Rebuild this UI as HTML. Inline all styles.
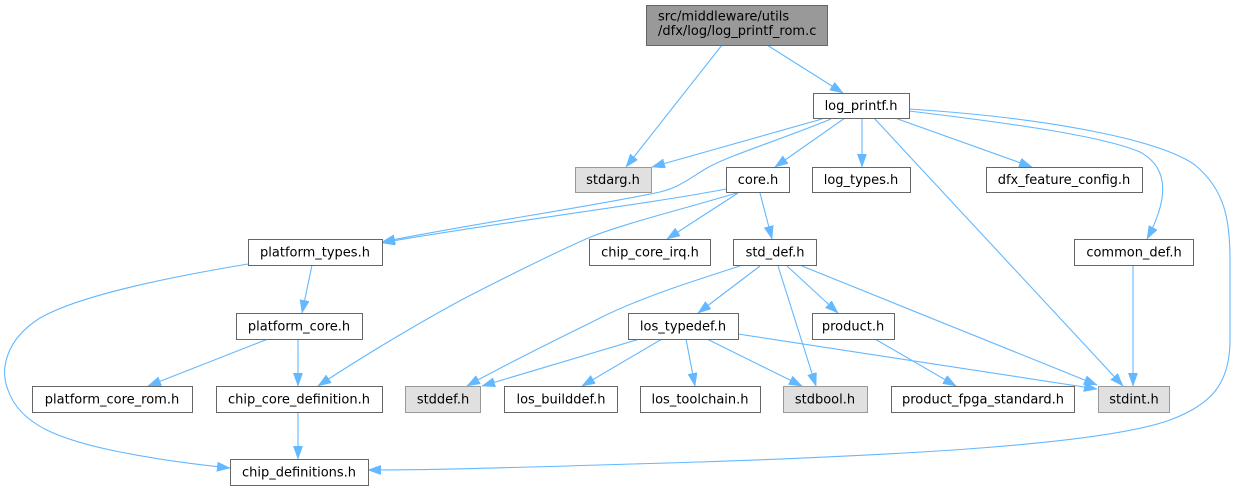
<!DOCTYPE html>
<html><head><meta charset="utf-8"><style>
html,body{margin:0;padding:0;background:#fff;}
svg{display:block;}
text{font-family:"DejaVu Sans","Liberation Sans",sans-serif;font-size:13px;fill:#000;}
.n{fill:#fff;stroke:#666;stroke-width:1;}
.g{fill:#e0e0e0;stroke:#999;stroke-width:1;}
.r{fill:#999;stroke:#666;stroke-width:1;}
.e{fill:none;stroke:#63b8ff;stroke-width:1.1;marker-end:url(#ah);}
</style></head><body>
<svg width="1236" height="491" viewBox="0 0 1236 491" xmlns="http://www.w3.org/2000/svg">
<defs><marker id="ah" markerUnits="userSpaceOnUse" markerWidth="14" markerHeight="10" refX="13" refY="4.7" orient="auto"><path d="M0,0 L13,4.7 L0,9.4 z" fill="#63b8ff" stroke="#63b8ff" stroke-width="0.5"/></marker></defs>

<!-- edges -->
<path class="e" d="M722,45 L626,167"/>
<path class="e" d="M767,45 L843,93"/>
<path class="e" d="M822,119 L652,167"/>
<path class="e" d="M831,119 C780,140 730,155 707,168 C690,178 680,187 660,192 C600,205 460,226 382,242"/>
<path class="e" d="M726,189 C650,204 460,228 382,243"/>
<path class="e" d="M845,118 L775,167"/>
<path class="e" d="M862,118 L862,167"/>
<path class="e" d="M895,118 L1032,167"/>
<path class="e" d="M874,118 L1123,386"/>
<path class="e" d="M909,111 C1000,122 1100,135 1140,152 C1170,168 1168,200 1147,239"/>
<path class="e" d="M909,109 C1050,118 1160,140 1195,165 C1225,190 1230,220 1230,260 L1230,340 C1230,385 1210,405 1170,420 C1100,445 900,455 700,462 C560,466 450,470 368,470"/>
<path class="e" d="M738,193 L667,239"/>
<path class="e" d="M760,193 L772,239"/>
<path class="e" d="M740,192 C680,210 630,222 593,236 C560,250 500,280 467,297 C420,322 360,358 318,386"/>
<path class="e" d="M312,265 L302,313"/>
<path class="e" d="M248,264 C170,277 80,295 40,318 C5,340 0,370 8,390 C20,425 60,440 120,452 C160,460 200,465 230,468"/>
<path class="e" d="M268,339 L148,386"/>
<path class="e" d="M298,339 L298,386"/>
<path class="e" d="M298,412 L298,459"/>
<path class="e" d="M740,266 C690,282 640,298 600,318 C560,338 510,362 467,386"/>
<path class="e" d="M760,266 L698,313"/>
<path class="e" d="M778,266 L816,386"/>
<path class="e" d="M787,266 L838,313"/>
<path class="e" d="M802,266 L1097,385"/>
<path class="e" d="M643,338 L482,386"/>
<path class="e" d="M662,339 L582,386"/>
<path class="e" d="M686,339 L695,386"/>
<path class="e" d="M707,339 L802,386"/>
<path class="e" d="M738,334 L1097,389"/>
<path class="e" d="M875,339 L956,386"/>
<path class="e" d="M1133,265 L1133,386"/>

<!-- nodes -->
<rect class="r" x="646.5" y="5.5" width="181" height="40"/>
<text x="658" y="20.5">src/middleware/utils</text>
<text x="658" y="35">/dfx/log/log_printf_rom.c</text>

<rect class="n" x="813.5" y="93.5" width="96" height="25"/>
<text x="861" y="110" text-anchor="middle">log_printf.h</text>

<rect class="g" x="575.5" y="167.5" width="76" height="25"/>
<text x="613" y="184" text-anchor="middle">stdarg.h</text>

<rect class="n" x="726.5" y="167.5" width="63" height="25"/>
<text x="758" y="184" text-anchor="middle">core.h</text>

<rect class="n" x="812.5" y="167.5" width="98" height="25"/>
<text x="861" y="184" text-anchor="middle">log_types.h</text>

<rect class="n" x="986.5" y="167.5" width="156" height="25"/>
<text x="1064" y="184" text-anchor="middle">dfx_feature_config.h</text>

<rect class="n" x="248.5" y="239.5" width="134" height="26"/>
<text x="315" y="256.5" text-anchor="middle">platform_types.h</text>

<rect class="n" x="589.5" y="239.5" width="121" height="26"/>
<text x="650" y="256.5" text-anchor="middle">chip_core_irq.h</text>

<rect class="n" x="733.5" y="239.5" width="83" height="26"/>
<text x="775" y="256.5" text-anchor="middle">std_def.h</text>

<rect class="n" x="1074.5" y="239.5" width="119" height="26"/>
<text x="1134" y="256.5" text-anchor="middle">common_def.h</text>

<rect class="n" x="236.5" y="313.5" width="126" height="26"/>
<text x="299" y="330.5" text-anchor="middle">platform_core.h</text>

<rect class="n" x="628.5" y="313.5" width="110" height="26"/>
<text x="683" y="330.5" text-anchor="middle">los_typedef.h</text>

<rect class="n" x="812.5" y="313.5" width="82" height="26"/>
<text x="853" y="330.5" text-anchor="middle">product.h</text>

<rect class="n" x="32.5" y="386.5" width="160" height="26"/>
<text x="112" y="403.5" text-anchor="middle">platform_core_rom.h</text>

<rect class="n" x="216.5" y="386.5" width="166" height="26"/>
<text x="299" y="403.5" text-anchor="middle">chip_core_definition.h</text>

<rect class="g" x="405.5" y="386.5" width="75" height="26"/>
<text x="443" y="403.5" text-anchor="middle">stddef.h</text>

<rect class="n" x="504.5" y="386.5" width="113" height="26"/>
<text x="561" y="403.5" text-anchor="middle">los_builddef.h</text>

<rect class="n" x="640.5" y="386.5" width="120" height="26"/>
<text x="700" y="403.5" text-anchor="middle">los_toolchain.h</text>

<rect class="g" x="783.5" y="386.5" width="84" height="26"/>
<text x="825" y="403.5" text-anchor="middle">stdbool.h</text>

<rect class="n" x="891.5" y="386.5" width="183" height="26"/>
<text x="983" y="403.5" text-anchor="middle">product_fpga_standard.h</text>

<rect class="g" x="1098.5" y="386.5" width="71" height="26"/>
<text x="1134" y="403.5" text-anchor="middle">stdint.h</text>

<rect class="n" x="230.5" y="459.5" width="138" height="26"/>
<text x="299" y="476.5" text-anchor="middle">chip_definitions.h</text>
</svg>
</body></html>
